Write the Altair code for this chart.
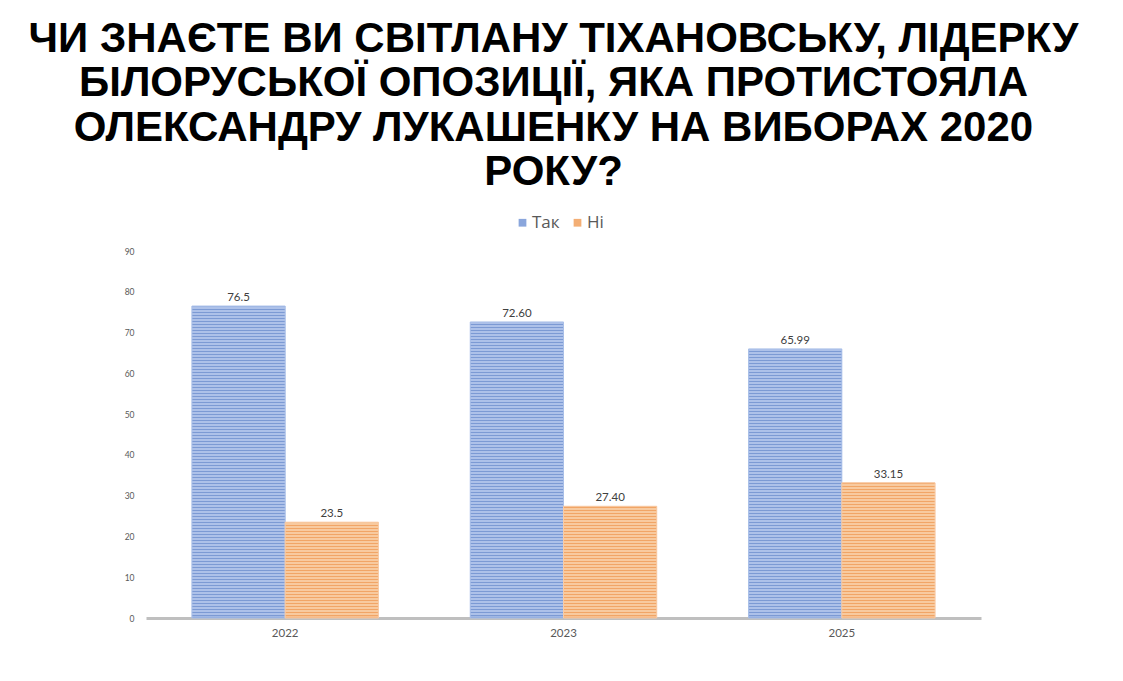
import altair as alt
import pandas as pd

years = ["2022", "2023", "2025"]
series = ["Так", "Ні"]
tak_values = [76.5, 72.60, 65.99]
ni_values = [23.5, 27.40, 33.15]
tak_labels = ["76.5", "72.60", "65.99"]
ni_labels = ["23.5", "27.40", "33.15"]
y_ticks = [0, 10, 20, 30, 40, 50, 60, 70, 80, 90]
title_lines = [
    "ЧИ ЗНАЄТЕ ВИ СВІТЛАНУ ТІХАНОВСЬКУ, ЛІДЕРКУ",
    "БІЛОРУСЬКОЇ ОПОЗИЦІЇ, ЯКА ПРОТИСТОЯЛА",
    "ОЛЕКСАНДРУ ЛУКАШЕНКУ НА ВИБОРАХ 2020",
    "РОКУ?",
]

PLOT_W, PLOT_H, Y_MAX = 835, 367, 90
STRIPE_PX = 3.0
DARK_PX = 2.0
solid = {"Так": "#8AA6DC", "Ні": "#F3AE74"}
stripe_dark = {"Так": "#7C9AD4", "Ні": "#F1A566"}
stripe_light = {"Так": "#ADC1E9", "Ні": "#F8CA9F"}
edge = {"Так": "#A9BFE8", "Ні": "#F8CBA6"}

rows = []
for i, yr in enumerate(years):
    rows.append({"year": yr, "series": "Так", "value": tak_values[i], "label": tak_labels[i]})
    rows.append({"year": yr, "series": "Ні", "value": ni_values[i], "label": ni_labels[i]})
df = pd.DataFrame(rows)

x_enc = alt.X("year:N", sort=years,
              scale=alt.Scale(paddingInner=0.33, paddingOuter=0.165),
              axis=alt.Axis(title=None, labelAngle=0, ticks=False, labelPadding=9,
                            labelFontSize=11.5, labelColor="#595959", labelFont="Lato",
                            domainColor="#BFBFBF", domainWidth=3))
xo_enc = alt.XOffset("series:N", sort=series, scale=alt.Scale(paddingInner=0, paddingOuter=0))
y_enc = alt.Y("value:Q", scale=alt.Scale(domain=[0, Y_MAX], nice=False),
              axis=alt.Axis(title=None, values=y_ticks, grid=False, domain=False, ticks=False,
                            labelFontSize=8.5, labelColor="#595959", labelFont="Lato",
                            labelPadding=12))

base = alt.Chart(df).mark_bar(strokeWidth=0).encode(
    x=x_enc,
    xOffset=xo_enc,
    y=y_enc,
    color=alt.Color("series:N", sort=series,
                    scale=alt.Scale(domain=series, range=[solid[s] for s in series]),
                    legend=alt.Legend(title=None, orient="none", direction="horizontal",
                                      legendX=368, legendY=-37,
                                      symbolType="square", symbolSize=60,
                                      symbolStrokeWidth=0,
                                      labelFontSize=17, labelColor="#595959",
                                      labelFont="Open Sans", columnPadding=9,
                                      labelOffset=1)),
)


def stripe_gradient(s, value):
    # stripes anchored at the baseline with a fixed pixel period
    h = value * PLOT_H / Y_MAX
    stops = []
    pos = 0.0  # distance from bottom, px
    while pos < h:
        d_end = min(pos + DARK_PX, h)
        l_end = min(pos + STRIPE_PX, h)
        stops.append((1 - pos / h, stripe_dark[s]))
        stops.append((1 - d_end / h, stripe_dark[s]))
        if l_end > d_end:
            stops.append((1 - d_end / h, stripe_light[s]))
            stops.append((1 - l_end / h, stripe_light[s]))
        pos += STRIPE_PX
    stops.sort(key=lambda t: t[0])
    return {"gradient": "linear", "x1": 0, "y1": 0, "x2": 0, "y2": 1,
            "stops": [{"offset": max(0.0, min(1.0, o)), "color": c} for o, c in stops]}


striped = []
for _, r in df.iterrows():
    striped.append(
        alt.Chart(df).transform_filter(
            (alt.datum.year == r["year"]) & (alt.datum.series == r["series"])
        ).mark_bar(fill=stripe_gradient(r["series"], r["value"]),
                   stroke=edge[r["series"]], strokeWidth=1).encode(
            x=alt.X("year:N", sort=years),
            xOffset=alt.XOffset("series:N", sort=series),
            y="value:Q",
        )
    )

labels = alt.Chart(df).mark_text(dy=-8, fontSize=11.5, color="#404040", font="Lato").encode(
    x=alt.X("year:N", sort=years),
    xOffset=alt.XOffset("series:N", sort=series),
    y="value:Q",
    text="label:N",
)

chart = alt.layer(base, *striped, labels).properties(
    width=PLOT_W,
    height=PLOT_H,
    autosize=alt.AutoSizeParams(type="none"),
    padding={"left": 138, "top": 243, "right": 134, "bottom": 55},
    title=alt.TitleParams(text=title_lines, anchor="middle", fontSize=42, font="Liberation Sans",
                          fontWeight="bold", color="#000000", lineHeight=44.5, offset=20, dx=-10),
).configure_view(stroke=None)

chart.save("out.html", embed_options={"renderer": "svg", "actions": False})
